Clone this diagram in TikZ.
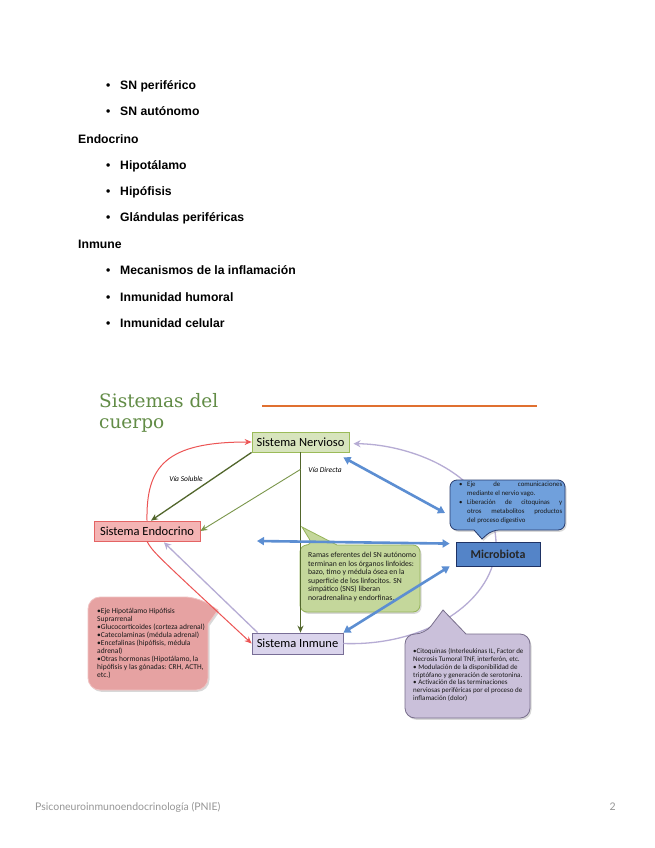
\documentclass[tikz,border=0pt]{standalone}
\usepackage{fontspec}
\setmainfont{Liberation Sans}
\newfontfamily\carl{Carlito}
\newfontfamily\ttl{DejaVu Serif}
\newfontfamily\ftr{Lato}
\usetikzlibrary{arrows.meta,calc,shadows}
\definecolor{titlegreen}{RGB}{98,140,70}
\definecolor{orangeline}{RGB}{224,112,48}
\definecolor{nervfill}{RGB}{215,228,189}
\definecolor{nervdraw}{RGB}{155,187,89}
\definecolor{endofill}{RGB}{244,180,180}
\definecolor{endodraw}{RGB}{228,100,100}
\definecolor{inmfill}{RGB}{218,212,236}
\definecolor{inmdraw}{RGB}{120,110,150}
\definecolor{microfill}{RGB}{84,132,200}
\definecolor{microdraw}{RGB}{30,50,100}
\definecolor{bcallfill}{RGB}{112,160,220}
\definecolor{bcalldraw}{RGB}{40,60,110}
\definecolor{gcallfill}{RGB}{196,215,155}
\definecolor{gcalldraw}{RGB}{150,180,90}
\definecolor{rcallfill}{RGB}{230,162,162}
\definecolor{rcalldraw}{RGB}{240,195,195}
\definecolor{pcallfill}{RGB}{202,192,218}
\definecolor{pcalldraw}{RGB}{120,110,140}
\definecolor{bluearrow}{RGB}{92,142,210}
\definecolor{purparc}{RGB}{182,172,212}
\definecolor{redarrow}{RGB}{236,84,84}
\definecolor{darkgreen}{RGB}{82,102,44}
\definecolor{lightgreen}{RGB}{122,150,74}
\definecolor{footgray}{RGB}{150,150,150}
\begin{document}
\begin{tikzpicture}[x=1pt,y=-1pt,
  listitem/.style={anchor=base west,inner sep=0pt,font=\bfseries\fontsize{12.2}{14}\selectfont},
  sysbox/.style={draw,line width=0.8pt,inner sep=0pt,font=\carl\fontsize{12.5}{14}\selectfont,
    drop shadow={opacity=0.25,shadow xshift=1.2pt,shadow yshift=-1.2pt}},
  callshape/.style={line width=0.8pt,drop shadow={opacity=0.3,shadow xshift=1.5pt,shadow yshift=-1.8pt}},
  calltext/.style={anchor=north west,inner sep=0pt,align=left,text=black!90},
  vialabel/.style={inner sep=0pt,font=\carl\itshape\fontsize{7.5}{8}\selectfont},
  bluearr/.style={draw=bluearrow,line width=2.6pt,{Triangle[width=8pt,length=7pt]}-{Triangle[width=8pt,length=7pt]}},
  redarr/.style={draw=redarrow,line width=1pt,-{Stealth[width=6pt,length=7pt]}},
  purparr/.style={draw=purparc,line width=1.3pt,-{Stealth[width=7pt,length=7pt]}},
  dgarr/.style={draw=darkgreen,line width=1.3pt,-{Stealth[width=6pt,length=7pt]}},
  lgarr/.style={draw=lightgreen,line width=0.9pt,-{Stealth[width=6pt,length=7pt]}}]
\useasboundingbox[fill=white] (0,0) rectangle (655,848);

% ---- text list ----
\node[listitem] (l1) at (106,90) {\makebox[14pt][l]{\textbullet}SN periférico};
\node[listitem] (l2) at (106,116) {\makebox[14pt][l]{\textbullet}SN autónomo};
\node[listitem] (h1) at (78,143) {Endocrino};
\node[listitem] (l3) at (106,169) {\makebox[14pt][l]{\textbullet}Hipotálamo};
\node[listitem] (l4) at (106,195) {\makebox[14pt][l]{\textbullet}Hipófisis};
\node[listitem] (l5) at (106,221) {\makebox[14pt][l]{\textbullet}Glándulas periféricas};
\node[listitem] (h2) at (78,248) {Inmune};
\node[listitem] (l6) at (106,274) {\makebox[14pt][l]{\textbullet}Mecanismos de la inflamación};
\node[listitem] (l7) at (106,301) {\makebox[14pt][l]{\textbullet}Inmunidad humoral};
\node[listitem] (l8) at (106,327) {\makebox[14pt][l]{\textbullet}Inmunidad celular};

% ---- title ----
\node[anchor=base west,inner sep=0pt,font=\ttl\fontsize{18.5}{21}\selectfont,text=titlegreen] (t1) at (99,407) {Sistemas del};
\node[anchor=base west,inner sep=0pt,font=\ttl\fontsize{18.5}{21}\selectfont,text=titlegreen] (t2) at (99,428) {cuerpo};
\coordinate (oa) at (262,406);
\coordinate (ob) at (537,406);
\draw[orangeline,line width=2pt] (oa) -- (ob);

% ---- boxes (nodes first, for names) ----
\node[sysbox,fill=nervfill,draw=nervdraw,minimum width=97pt,minimum height=20pt] (nerv) at (300.5,442) {Sistema Nervioso};
\node[sysbox,fill=endofill,draw=endodraw,minimum width=106pt,minimum height=20pt] (endo) at (147,531) {Sistema Endocrino};
\node[sysbox,fill=inmfill,draw=inmdraw,minimum width=91pt,minimum height=21pt] (inm) at (297.5,643.5) {Sistema Inmune};

% ---- big purple arc (behind callouts) ----
\draw[purparr] (inm.east) arc[start angle=93,end angle=-89,x radius=145,y radius=100];

% ---- callouts ----
\path[callshape,fill=bcallfill,draw=bcalldraw] (450,505) [rounded corners=7pt] -- (450,480) -- (565,480) -- (565,530) -- (492,530) [sharp corners] -- (482,539) -- (474,530) [rounded corners=7pt] -- (450,530) -- cycle;
\path[callshape,fill=gcallfill,draw=gcalldraw] (300,580) [rounded corners=7pt] -- (300,545) -- (313,545) [sharp corners] -- (302,527) -- (337,545) [rounded corners=7pt] -- (420,545) -- (420,612) -- (300,612) -- cycle;
\path[callshape,fill=rcallfill,draw=rcalldraw] (88,640) [rounded corners=12pt] -- (88,597) -- (197,597) [sharp corners] -- (218,610) -- (208,624) [rounded corners=12pt] -- (208,690) -- (88,690) -- cycle;
\path[callshape,fill=pcallfill,draw=pcalldraw] (405,680) [rounded corners=10pt] -- (405,634) -- (425,634) [sharp corners] -- (443,610) -- (466,634) [rounded corners=10pt] -- (530,634) -- (530,718) -- (405,718) -- cycle;

\node[sysbox,fill=microfill,draw=microdraw,minimum width=84pt,minimum height=24pt,font=\carl\bfseries\fontsize{12}{14}\selectfont,text=black!85] (micro) at (498,554) {Microbiota};

% ---- callout texts ----
\node[calltext,font=\carl\fontsize{6.8}{9}\selectfont] (btext) at (459,482) {%
\makebox[8pt][l]{\textbullet}\makebox[95pt][s]{Eje de comunicaciones}\\
\hspace*{8pt}mediante el nervio vago.\\
\makebox[8pt][l]{\textbullet}\makebox[95pt][s]{Liberación de citoquinas y}\\
\hspace*{8pt}\makebox[95pt][s]{otros metabolitos productos}\\
\hspace*{8pt}del proceso digestivo};
\node[calltext,font=\carl\fontsize{7.7}{8.5}\selectfont] (gtext) at (308,552) {%
Ramas eferentes del SN autónomo\\
terminan en los órganos linfoides:\\
bazo, timo y médula ósea en la\\
superficie de los linfocitos. SN\\
simpático (SNS) liberan\\
noradrenalina y endorfinas.};
\node[calltext,font=\carl\fontsize{7.5}{8}\selectfont] (rtext) at (97,608) {%
•Eje Hipotálamo Hipófisis\\
Suprarrenal\\
•Glucocorticoides (corteza adrenal)\\
•Catecolaminas (médula adrenal)\\
•Encefalinas (hipófisis, médula\\
adrenal)\\
•Otras hormonas (Hipotálamo, la\\
hipófisis y las gónadas: CRH, ACTH,\\
etc.)};
\node[calltext,font=\carl\fontsize{7}{7.9}\selectfont] (ptext) at (413,648) {%
•Citoquinas (Interleukinas IL, Factor de\\
Necrosis Tumoral TNF, interferón, etc.\\
• Modulación de la disponibilidad de\\
triptófano y generación de serotonina.\\
• Activación de las terminaciones\\
nerviosas periféricas por el proceso de\\
inflamación (dolor)};

% ---- connectors ----
\draw[redarr] (endo.north) .. controls (146,466) and (166,442) .. (nerv.west);
\draw[redarr] (endo.south) .. controls (153,552) .. (inm.west);
\draw[purparr] ($(inm.north west)+(6,0)$) -- ($(endo.south)+(17,1)$);
\draw[dgarr] (nerv.south west) -- ($(endo.north)+(4,0)$);
\draw[dgarr] (nerv.south) -- (nerv.south |- inm.north);
\coordinate (vd) at ($(nerv.south)+(0,17)$);
\draw[lgarr] (vd) -- (endo.east);
\coordinate (bA) at (445,513);
\coordinate (bL) at (257,541);
\draw[bluearr] ($(nerv.south east)+(-6,5)$) -- (bA);
\draw[bluearr] (bL) -- ($(micro.north west)+(-6,2)$);
\draw[bluearr] (inm.north east) -- ($(micro.south west)+(-6,0)$);

\node[vialabel] (vs) at (186,479) {Vía Soluble};
\node[vialabel] (vdl) at (325,470) {Vía Directa};

% ---- footer ----
\node[anchor=base west,inner sep=0pt,font=\ftr\fontsize{10.5}{12}\selectfont,text=footgray] (foot) at (35,810) {Psiconeuroinmunoendocrinología (PNIE)};
\node[anchor=base east,inner sep=0pt,font=\ftr\fontsize{10.5}{12}\selectfont,text=footgray] (pg) at (616,810) {2};
\end{tikzpicture}
\end{document}
